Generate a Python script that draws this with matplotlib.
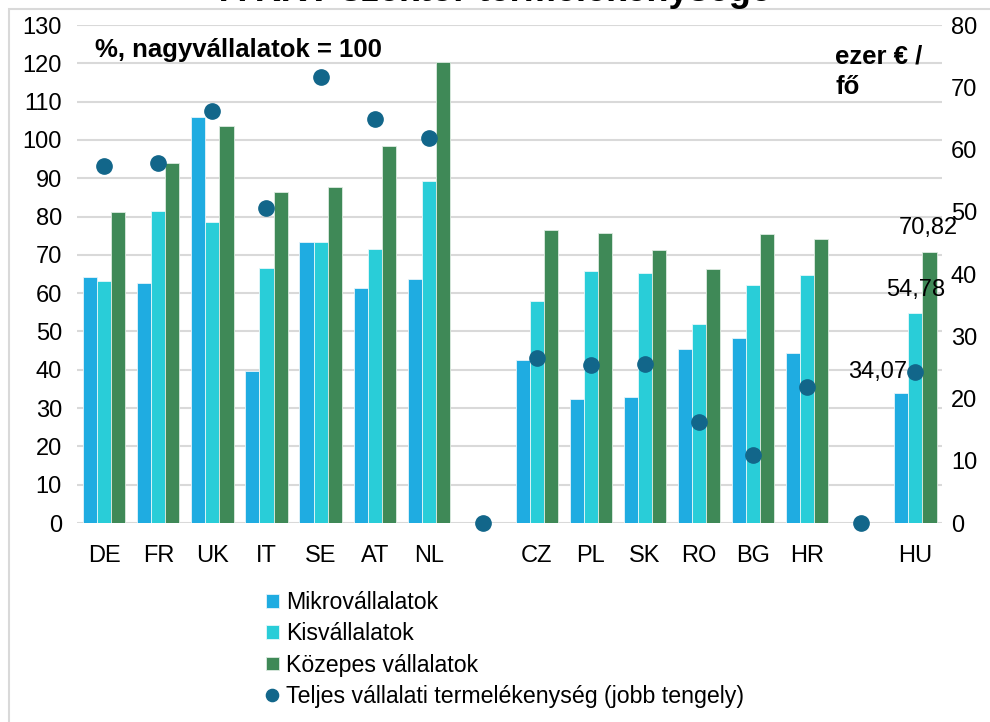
import numpy as np
import matplotlib
matplotlib.use("Agg")
import matplotlib.pyplot as plt
from matplotlib.patches import Rectangle

plt.rcParams['font.family'] = ['Liberation Sans', 'DejaVu Sans']

# data
countries = ["DE", "FR", "UK", "IT", "SE", "AT", "NL", "", "CZ", "PL", "SK", "RO", "BG", "HR", "", "HU"]
mikro = [64.3, 62.7, 105.9, 39.7, 73.3, 61.4, 63.7, 0, 42.5, 32.3, 33.0, 45.4, 48.2, 44.4, 0, 34.07]
kis = [63.1, 81.5, 78.6, 66.6, 73.4, 71.5, 89.2, 0, 57.9, 65.7, 65.3, 51.9, 62.2, 64.8, 0, 54.78]
kozepes = [81.1, 94.1, 103.7, 86.3, 87.7, 98.4, 120.3, 0, 76.5, 75.6, 71.4, 66.3, 75.4, 74.1, 0, 70.82]
teljes = [57.4, 57.9, 66.2, 50.6, 71.7, 64.9, 61.9, 0, 26.5, 25.4, 25.5, 16.2, 10.9, 21.9, 0, 24.3]

c_mikro = "#1FACE1"
c_kis = "#29CDD8"
c_koz = "#3F8957"
c_dot = "#12668A"
fs = 17

fig = plt.figure(figsize=(9.9, 7.22), dpi=100)
ax = fig.add_axes([0.078, 0.2756, 0.874, 0.6897])
ax2 = ax.twinx()

x = np.arange(len(countries))
w = 0.26
b1 = ax.bar(x - w, mikro, w, color=c_mikro, edgecolor="#E6F4FA", linewidth=0.6, label="Mikrovállalatok", zorder=3)
b2 = ax.bar(x, kis, w, color=c_kis, edgecolor="#E6F8FA", linewidth=0.6, label="Kisvállalatok", zorder=3)
b3 = ax.bar(x + w, kozepes, w, color=c_koz, edgecolor="#DDEBE1", linewidth=0.6, label="Közepes vállalatok", zorder=3)
d, = ax2.plot(x, teljes, "o", color=c_dot, markersize=11, clip_on=False,
              label="Teljes vállalati termelékenység (jobb tengely)", zorder=5)

ax.set_xlim(-0.5, len(countries) - 0.5)
ax.set_ylim(0, 130)
ax.set_yticks(range(0, 131, 10))
ax2.set_ylim(0, 80)
ax2.set_yticks(range(0, 81, 10))
ax.set_xticks(x)
ax.set_xticklabels(countries)

ax.grid(axis="y", color="#D9D9D9", linewidth=1.5, zorder=0)
ax.set_axisbelow(True)
for a in (ax, ax2):
    for s in a.spines.values():
        s.set_visible(False)
ax.tick_params(axis="y", length=0, labelsize=fs, pad=11)
ax.tick_params(axis="x", length=0, labelsize=fs, pad=16)
ax2.tick_params(axis="y", length=0, labelsize=fs, pad=6)

# value labels for HU
hu = len(countries) - 1
ax.annotate("34,07", (hu - w, mikro[hu]), xytext=(4, 7), textcoords="offset points",
            ha="right", va="bottom", fontsize=fs)
ax.annotate("54,78", (hu, kis[hu]), xytext=(0, 9), textcoords="offset points",
            ha="center", va="bottom", fontsize=fs)
ax.annotate("70,82", (hu + w, kozepes[hu]), xytext=(-1, 9), textcoords="offset points",
            ha="center", va="bottom", fontsize=fs)

fig.text(95 / 990, 1 - 50 / 722, "%, nagyvállalatok = 100", fontsize=18.5, fontweight="bold",
         ha="left", va="center")
fig.text(835 / 990, 1 - 72 / 722, "ezer € /\nfő", fontsize=18.5, fontweight="bold",
         ha="left", va="center", linespacing=1.35)

fig.text(0.5, 1 - 1 / 722, "A KKV-szektor termelékenysége", fontsize=26, fontweight="bold",
         ha="center", va="baseline")

fig.patches.append(Rectangle((9 / 990, -0.1), 1.2, 1.1 - 9.5 / 722, transform=fig.transFigure,
                             fill=False, edgecolor="#D9D9D9", linewidth=1.5))

fig.legend(handles=[b1, b2, b3, d], loc="upper left", bbox_to_anchor=(266 / 990, 1 - 591 / 722),
           frameon=False, fontsize=16.7, handlelength=0.55, handleheight=0.55, handletextpad=0.3,
           labelspacing=0.36, borderpad=0, borderaxespad=0, markerscale=0.8)

fig.savefig("out.png", dpi=100)
